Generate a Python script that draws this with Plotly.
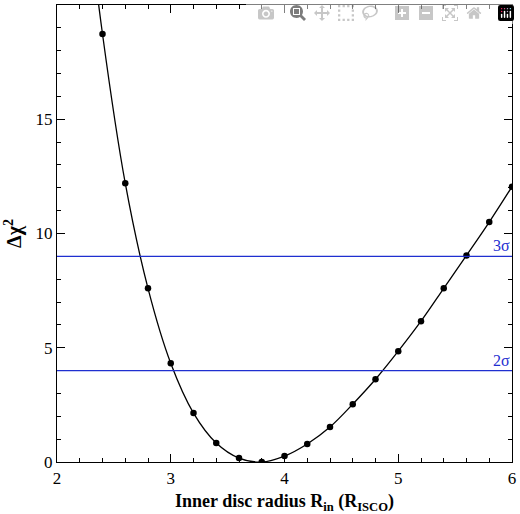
import plotly.graph_objects as go

# inner disc radius (R_ISCO) and delta chi^2
r_in = [2.2, 2.4, 2.6, 2.8, 3.0, 3.2, 3.4, 3.6, 3.8, 4.0, 4.2, 4.4, 4.6, 4.8, 5.0, 5.2, 5.4, 5.6, 5.8, 6.0]
dchi2 = [27.0, 18.73, 12.2, 7.6, 4.32, 2.14, 0.83, 0.17, 0.0, 0.26, 0.79, 1.53, 2.53, 3.62, 4.85, 6.16, 7.6, 9.04, 10.5, 12.05]
sigma_levels = [4, 9]
sigma_labels = ["2σ", "3σ"]

font = "Liberation Serif"
fig = go.Figure()
for lvl in sigma_levels:
    fig.add_hline(y=lvl, line_color="#1f2fd0", line_width=1.3)
for lvl, lab in zip(sigma_levels, sigma_labels):
    fig.add_annotation(x=6, y=lvl, text=lab, xanchor="right", yanchor="bottom",
                       showarrow=False, font=dict(family=font, size=16, color="#1f2fd0"))

fig.add_trace(go.Scatter(x=r_in, y=dchi2, mode="lines+markers",
                         line=dict(color="black", width=1.3, shape="spline"),
                         marker=dict(color="black", size=6.5), cliponaxis=True))

axis_common = dict(showline=True, linecolor="black", linewidth=1.3, mirror="ticks",
                   ticks="inside", ticklen=8, tickcolor="black", showgrid=False, zeroline=False,
                   tickfont=dict(family=font, size=17, color="black"))
fig.update_xaxes(range=[2, 6], dtick=1,
                 minor=dict(dtick=0.2, ticks="inside", ticklen=4, tickcolor="black"),
                 title=dict(text="<b>Inner disc radius R<sub>in</sub> (R<sub>ISCO</sub>)</b>",
                            font=dict(family=font, size=18, color="black"), standoff=8),
                 **axis_common)
fig.update_yaxes(range=[0, 20], dtick=5,
                 minor=dict(dtick=1, ticks="inside", ticklen=4, tickcolor="black"),
                 title=dict(text="<b>Δχ<sup>2</sup></b>",
                            font=dict(family=font, size=20, color="black"), standoff=8),
                 **axis_common)
fig.update_layout(width=520, height=514, margin=dict(l=57, r=6, t=4, b=52),
                  plot_bgcolor="white", paper_bgcolor="white", showlegend=False)
fig.write_html("out.html",
               post_script="document.body.style.margin='0';document.body.style.overflow='hidden';")
